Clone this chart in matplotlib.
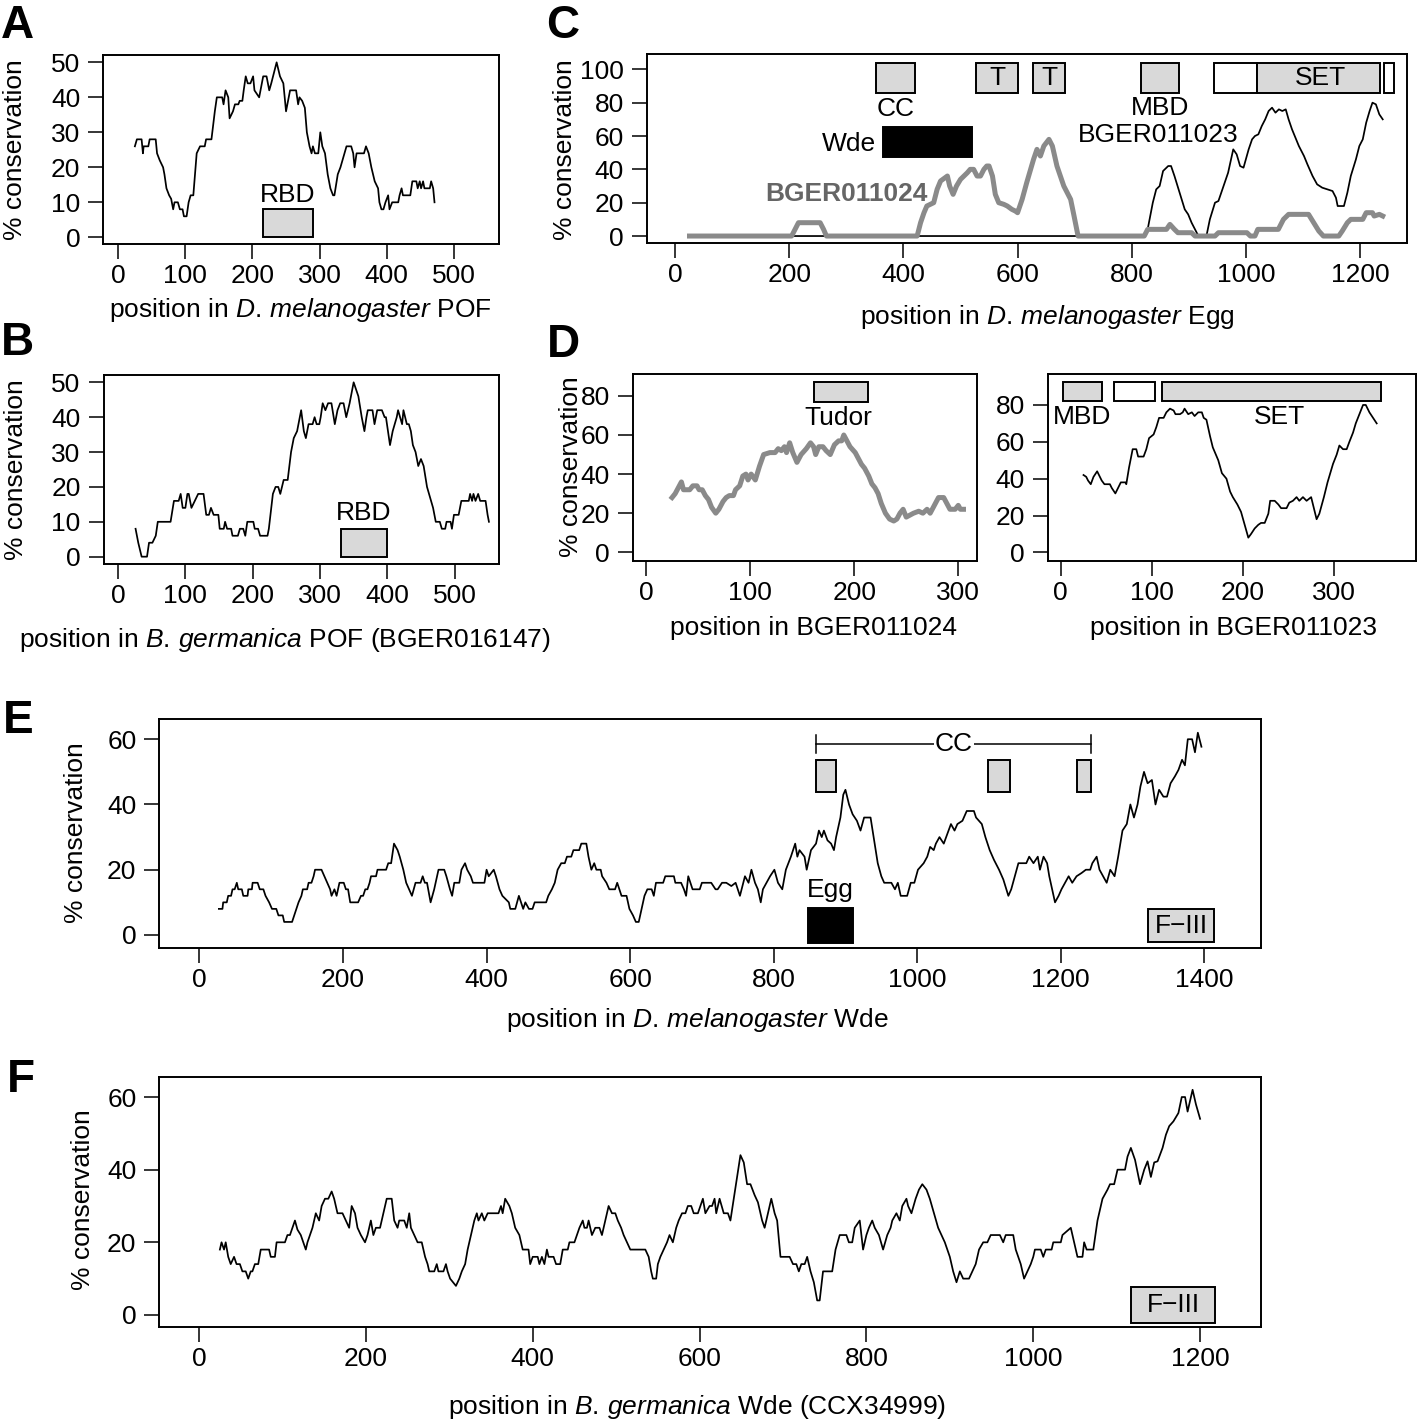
import matplotlib
matplotlib.use('Agg')
import matplotlib.pyplot as plt
from matplotlib.patches import Rectangle

plt.rcParams['font.family'] = ['Liberation Sans', 'DejaVu Sans']
plt.rcParams['mathtext.fontset'] = 'custom'
plt.rcParams['mathtext.rm'] = 'Liberation Sans'
plt.rcParams['mathtext.it'] = 'Liberation Sans:italic'
plt.rcParams['font.size'] = 19

# ---------------- data (position, % conservation) ----------------
pof_dmel = [(25,26),(28,28),(35,28),(37,24),(38,26),(45,26),(47,28),(56,28),(58,24),(62,22),(67,20),(69,18),
            (72,14),(76,12),(79,11),(82,8),(84,10),(89,10),(92,8),(96,8),(98,6),(102,6),(105,10),(108,12),
            (112,12),(117,24),(122,26),(129,26),(131,28),(139,28),(144,36),(147,40),(155,40),(157,38),(160,42),
            (164,40),(166,34),(171,36),(174,38),(179,38),(181,39),(185,39),(187,42),(190,46),(193,44),(197,44),
            (201,46),(203,42),(210,40),(212,42),(216,46),(221,46),(225,42),(228,44),(232,47),(236,50),(241,46),
            (246,44),(250,36),(254,40),(256,42),(265,42),(268,38),(270,40),(274,39),(278,37),(281,30),(285,26),
            (288,24),(290,26),(293,24),(298,24),(301,30),(304,26),(308,24),(312,18),(316,14),(320,12),(322,12),
            (327,18),(331,20),(334,22),(337,24),(340,26),(347,26),(350,24),(352,20),(355,24),(366,24),(369,26),
            (373,24),(377,20),(382,16),(387,14),(389,10),(392,8),(395,8),(398,10),(402,12),(404,8),(408,10),
            (417,10),(419,12),(422,14),(424,12),(435,12),(438,16),(444,16),(446,14),(449,16),(451,14),(454,16),
            (456,14),(464,14),(466,16),(469,14),(471,10)]

pof_bger = [(26,8),(30,4),(35,0),(43,0),(46,4),(51,4),(56,6),(59,10),(78,10),(83,16),(90,16),(93,18),(96,14),
            (100,14),(103,18),(105,18),(109,14),(114,16),(119,18),(127,18),(131,12),(135,12),(138,14),(142,12),
            (149,12),(151,8),(157,8),(159,10),(162,8),(168,8),(170,6),(178,6),(181,8),(186,8),(189,6),(192,10),
            (201,10),(203,8),(208,8),(211,6),(222,6),(224,8),(230,18),(234,20),(238,20),(241,18),(246,22),(252,22),
            (257,30),(261,34),(266,36),(272,42),(276,36),(279,34),(283,38),(289,38),(292,40),(295,38),(299,38),
            (301,40),(304,44),(308,42),(312,44),(317,44),(322,38),(326,42),(330,44),(335,44),(339,40),(344,44),
            (350,50),(357,46),(362,40),(366,36),(369,40),(371,42),(378,42),(381,38),(385,42),(392,42),(396,40),
            (398,40),(404,32),(408,36),(414,40),(416,42),(419,40),(422,38),(424,42),(429,38),(432,38),(435,36),
            (438,32),(442,30),(446,26),(450,28),(454,26),(459,20),(465,16),(468,14),(472,10),(478,10),(481,8),
            (486,8),(488,10),(494,10),(496,8),(499,12),(506,12),(510,16),(521,16),(523,18),(526,16),(528,18),
            (531,16),(535,18),(538,16),(546,16),(549,12),(551,10)]

egg_vs_bger011024 = [(25,0),(204,0),(210,4),(216,8),(254,8),(260,4),(265,0),(424,0),(430,8),(436,14),(441,18),
                     (453,20),(459,28),(465,33),(477,36),(481,30),(487,25),(493,30),(500,34),(506,36),(512,38),
                     (517,40),(523,40),(529,36),(535,36),(541,40),(546,42),(550,42),(556,36),(561,25),(567,20),
                     (576,19),(582,18),(590,16),(596,15),(600,14),(608,22),(616,32),(628,46),(634,52),(640,48),
                     (646,54),(655,58),(661,54),(669,42),(681,30),(693,22),(699,12),(706,0),(822,0),(828,4),
                     (861,4),(867,7),(875,4),(881,2),(905,2),(911,0),(946,0),(952,2),(1002,2),(1008,0),(1016,0),
                     (1021,4),(1057,4),(1066,10),(1075,13),(1110,13),(1119,8),(1128,3),(1136,0),(1163,0),
                     (1169,3),(1178,8),(1184,10),(1205,10),(1211,14),(1222,14),(1225,12),(1234,13),(1240,12)]

egg_vs_bger011023 = [(25,0),(822,0),(828,4),(837,20),(843,28),(849,30),(855,39),(864,42),(869,42),(875,36),
                     (884,26),(893,16),(899,13),(905,8),(911,4),(917,0),(931,0),(937,10),(946,20),(952,21),
                     (961,30),(969,38),(978,52),(984,49),(990,42),(996,41),(1005,52),(1011,58),(1016,60),
                     (1022,61),(1028,66),(1034,70),(1040,75),(1046,77),(1052,74),(1058,76),(1064,75),(1070,76),
                     (1075,70),(1081,64),(1093,54),(1102,48),(1108,43),(1117,36),(1125,31),(1134,29),(1143,28),
                     (1152,27),(1158,23),(1161,18),(1172,18),(1178,26),(1184,36),(1193,46),(1199,54),(1205,58),
                     (1211,68),(1217,75),(1222,80),(1228,79),(1234,73),(1240,70)]

bger011024 = [(25,28),(28,30),(31,33),(34,36),(36,32),(42,32),(45,34),(49,34),(51,32),(54,32),(57,29),(60,27),
              (63,23),(67,20),(70,22),(74,26),(77,28),(80,29),(84,29),(86,32),(90,34),(93,39),(96,40),(98,37),
              (101,40),(105,37),(109,44),(113,50),(119,51),(124,51),(127,53),(130,52),(133,54),(135,51),(138,56),
              (141,51),(145,46),(149,50),(154,53),(158,56),(161,54),(163,50),(166,54),(170,54),(173,52),(177,50),
              (181,55),(185,57),(188,57),(190,60),(193,57),(196,54),(201,51),(204,48),(207,45),(210,43),(214,39),
              (217,35),(220,33),(223,30),(226,25),(230,20),(234,17),(238,16),(241,17),(244,20),(247,22),(250,18),
              (257,20),(262,21),(266,20),(270,22),(273,20),(277,24),(281,28),(286,28),(289,25),(292,22),(297,22),
              (300,24),(302,22),(305,22)]

bger011023 = [(25,42),(28,41),(30,39),(33,37),(36,41),(40,44),(42,42),(45,39),(48,37),(54,37),(56,35),(60,32),
              (63,35),(66,38),(71,38),(72,37),(75,46),(79,56),(83,56),(85,52),(91,52),(94,56),(97,62),(102,64),
              (105,68),(108,73),(113,73),(116,76),(120,78),(124,77),(126,75),(131,75),(134,76),(136,78),(140,75),
              (144,76),(147,74),(151,76),(155,76),(157,73),(160,72),(164,63),(167,57),(173,50),(177,43),(182,40),
              (186,33),(189,30),(194,26),(198,22),(202,15),(206,8),(209,10),(213,13),(217,15),(220,16),(224,16),
              (228,21),(230,28),(235,28),(239,26),(242,24),(248,24),(251,27),(255,28),(259,30),(262,28),(266,30),
              (270,28),(275,30),(279,22),(281,18),(284,21),(289,30),(293,38),(299,48),(303,53),(306,58),(310,56),
              (314,56),(317,60),(321,65),(324,70),(328,75),(332,80),(335,80),(339,76),(343,73),(347,70)]

wde_dmel = [(27,8),(32,8),(33,10),(38,10),(40,12),(44,12),(46,14),(49,14),(52,16),(54,14),(59,14),(61,12),(67,12),
            (68,14),(73,14),(74,16),(81,16),(84,14),(89,14),(92,12),(97,10),(101,8),(107,8),(110,6),(116,6),(118,4),
            (129,4),(132,6),(135,8),(138,10),(142,12),(144,14),(150,14),(152,16),(156,16),(159,18),(161,20),(170,20),
            (174,18),(178,16),(182,14),(184,12),(188,14),(191,12),(195,16),(201,16),(204,14),(207,14),(210,10),
            (221,10),(225,12),(228,12),(231,14),(234,14),(237,16),(239,18),(246,18),(248,20),(260,20),(263,22),
            (267,22),(271,28),(276,26),(279,24),(284,20),(288,16),(292,14),(296,12),(301,16),(308,16),(311,18),
            (314,16),(317,16),(322,10),(327,14),(331,18),(333,20),(341,20),(344,18),(349,14),(352,12),(355,16),
            (362,16),(365,20),(370,22),(373,20),(378,18),(381,16),(397,16),(400,20),(403,18),(410,20),(413,18),
            (418,14),(422,12),(431,10),(433,8),(440,8),(445,12),(448,10),(451,8),(454,10),(459,8),(464,8),(467,10),
            (483,10),(486,12),(491,14),(495,16),(499,20),(504,22),(509,22),(512,24),(518,24),(521,26),(529,26),
            (532,28),(539,28),(542,24),(546,20),(550,22),(553,20),(559,20),(561,18),(567,16),(571,14),(579,14),
            (582,16),(585,14),(588,12),(595,12),(599,8),(604,6),(608,4),(612,4),(616,8),(620,12),(624,14),(630,14),
            (633,12),(636,16),(646,16),(649,18),(661,18),(663,16),(671,16),(675,14),(678,12),(681,18),(684,16),
            (687,14),(697,14),(700,16),(713,16),(719,14),(722,14),(728,16),(734,16),(741,15),(747,16),(753,12),
            (760,18),(765,16),(769,20),(774,16),(778,14),(782,10),(785,14),(790,16),(795,18),(801,20),(806,16),
            (812,14),(817,20),(824,24),(830,28),(833,24),(836,26),(843,24),(846,20),(852,26),(859,28),(863,32),
            (867,30),(870,32),(875,29),(880,28),(884,26),(887,30),(893,36),(897,43),(900,44.5),(905,40),(910,37),
            (916,35),(921,32),(926,36),(935,36),(940,29),(945,22),(950,18),(954,16),(964,16),(969,14),(973,16),
            (977,12),(986,12),(991,16),(996,16),(1001,20),(1009,22),(1014,24),(1018,27),(1023,26),(1026,28),
            (1031,30),(1037,28),(1042,31),(1047,34),(1052,32),(1056,34),(1063,35),(1069,38),(1079,38),(1082,36),
            (1090,34),(1095,30),(1101,26),(1107,23),(1114,20),(1120,17),(1127,12),(1131,14),(1136,18),(1141,22),
            (1152,22),(1156,24),(1162,22),(1168,24),(1171,20),(1176,24),(1181,22),(1184,18),(1188,14),(1192,10),
            (1197,12),(1201,14),(1206,16),(1211,18),(1216,16),(1222,18),(1229,19),(1235,20),(1241,20),(1244,22),
            (1250,24),(1254,20),(1259,18),(1264,16),(1269,20),(1275,18),(1280,24),(1286,32),(1292,34),(1297,40),
            (1302,36),(1307,40),(1311,45.5),(1316,50),(1321,46.5),(1327,47.5),(1332,40),(1337,44.5),(1343,42.4),
            (1348,42.4),(1353,46.5),(1359,48.6),(1364,50.6),(1369,53.7),(1373,52),(1377,60),(1383,60),(1387,56),
            (1391,62),(1396,57.7)]

wde_bger = [(25,18),(27,20),(30,18),(32,20),(35,16),(38,14),(42,16),(45,14),(49,14),(52,12),(56,12),(59,10),
            (62,12),(64,12),(67,14),(71,14),(74,18),(84,18),(86,16),(91,16),(93,20),(103,20),(106,22),(109,22),
            (112,24),(115,26),(118,23.5),(122,22),(125,20),(128,18),(130,20),(136,24),(140,28),(144,26),(147,30),
            (151,32),(155,32),(159,34),(162,32),(166,28),(172,28),(176,26),(180,24),(183,30),(187,28),(190,24),
            (194,22),(199,20),(202,22),(206,26),(209,22),(212,24),(217,24),(221,28),(225,32),(231,32),(234,26),
            (238,24),(240,26),(246,26),(249,24),(252,28),(254,24),(258,22),(262,20),(267,20),(271,16),(274,14),
            (276,12),(282,12),(285,14),(287,12),(293,12),(296,14),(298,12),(301,10),(308,8),(312,10),(315,12),
            (319,14),(322,18),(326,22),(330,26),(333,28),(335,26),(339,28),(342,26),(346,28),(359,28),(362,30),
            (364,28),(367,32),(372,30),(375,28),(379,24),(384,22),(388,18),(395,18),(397,14),(400,16),(406,16),
            (408,14),(411,16),(414,14),(417,18),(419,16),(425,16),(428,14),(433,14),(436,18),(442,18),(444,20),
            (450,20),(453,22),(456,24),(460,26),(462,24),(465,24),(467,26),(471,22),(475,24),(480,24),(483,22),
            (487,26),(491,30),(495,28),(499,28),(502,26),(506,24),(509,22),(513,20),(517,18),(535,18),(539,16),
            (542,12),(544,10),(548,10),(550,14),(553,16),(557,18),(561,20),(564,22),(568,20),(572,24),(575,26),
            (579,28),(583,28),(586,30),(590,30),(593,28),(598,28),(601,30),(604,32),(607,28),(612,30),(615,30),
            (618,32),(620,28),(624,32),(629,28),(634,28),(637,26),(641,32),(645,38),(649,44),(653,42),(657,36),
            (661,36),(666,33),(670,31),(675,26),(678,24),(682,28),(686,32),(690,28),(693,26),(697,16),(708,16),
            (712,14),(716,14),(719,12),(722,14),(726,14),(729,16),(733,12),(737,9),(741,4),(744,4),(748,12),
            (759,12),(763,18),(768,22),(776,22),(779,20),(783,20),(786,24),(792,26),(796,18),(800,22),(803,24),
            (807,26),(810,24),(815,22),(820,18),(825,22),(829,24),(831,26),(836,28),(840,26),(843,30),(848,32),
            (850,30),(854,28),(859,32),(863,34.5),(867,36),(872,34.5),(876,32),(881,28),(886,24),(890,22),
            (894,20),(900,16),(904,12),(908,9),(912,12),(916,10),(923,10),(927,12),(931,14),(935,18),(940,20),
            (945,20),(949,22),(960,22),(964,20),(967,22),(976,22),(979,18),(985,14),(989,10),(993,12),(997,14),
            (1000,16),(1002,18),(1009,18),(1012,16),(1015,18),(1022,18),(1024,20),(1033,20),(1035,22),(1045,24),
            (1049,20),(1053,16),(1059,16),(1061,20),(1064,18),(1072,18),(1077,26),(1083,32),(1089,34.5),(1092,36),
            (1097,36),(1101,40),(1110,40),(1113,43.6),(1117,46),(1122,42.7),(1128,36),(1133,40),(1137,42.3),
            (1141,38),(1145,42),(1149,42.3),(1155,46),(1159,49.6),(1163,52),(1168,53.3),(1174,55.6),(1178,60),
            (1182,60),(1185,56),(1189,60),(1191,62),(1195,58),(1200,54)]

# domain annotations (start, end)
rbd_dmel = (215, 290)
rbd_bger = (331, 400)
egg_cc = (352, 420)
egg_tudor = [(528, 600), (627, 684)]
egg_mbd = (816, 883)
egg_pre = (944, 1019)
egg_set = (1019, 1235)
egg_post = (1243, 1260)
egg_wde = (364, 521)
tudor_bger011024 = (161, 213)
bger011023_mbd = (2, 45)
bger011023_pre = (58, 103)
bger011023_set = (111, 352)
wde_cc = [(859, 887), (1099, 1129), (1222, 1242)]
wde_cc_span = (859, 1242)
wde_egg = (848, 910)
wde_dmel_f3 = (1322, 1413)
wde_bger_f3 = (1117, 1218)

# ---------------- figure ----------------
W, H = 1417, 1423
fig = plt.figure(figsize=(W / 100, H / 100), dpi=100)
GREY = '#d9d9d9'
LGREY = '#8a8a8a'
LW = 1.25


def add_ax(l, t, r, b):
    return fig.add_axes([l / W, 1 - b / H, (r - l) / W, (b - t) / H])


def style(ax, xlim, ylim, xticks, yticks):
    ax.set_xlim(*xlim)
    ax.set_ylim(*ylim)
    ax.set_xticks(xticks)
    ax.set_yticks(yticks)
    ax.tick_params(axis='both', direction='out', length=10.5, width=1.1, labelsize=19)
    ax.tick_params(axis='y', pad=6)
    ax.tick_params(axis='x', pad=4)
    for s in ax.spines.values():
        s.set_linewidth(1.4)


def ftext(x, y, s, **kw):
    fig.text(x / W, 1 - y / H, s, **kw)


def box(ax, x0, x1, y0, y1, fc=GREY):
    ax.add_patch(Rectangle((x0, y0), x1 - x0, y1 - y0, facecolor=fc, edgecolor='black',
                           linewidth=1.4, zorder=3))


def xy(pairs):
    return [p[0] for p in pairs], [p[1] for p in pairs]


DMEL = '$\\mathit{D.\\,melanogaster}$'
BGER = '$\\mathit{B.\\,germanica}$'

# Panel A
axA = add_ax(103.3, 55, 499, 244.3)
style(axA, (-22, 567), (-2.0, 52.1), range(0, 501, 100), range(0, 51, 10))
axA.plot(*xy(pof_dmel), color='black', lw=LW)
box(axA, rbd_dmel[0], rbd_dmel[1], 0, 8)
axA.text(sum(rbd_dmel) / 2, 12, 'RBD', ha='center', va='center')
ftext(15, 150, '% conservation', rotation=90, ha='center', va='center')
ftext(300, 310, 'position in ' + DMEL + ' POF', ha='center', va='center')

# Panel B
axB = add_ax(103.6, 375, 498.7, 564)
style(axB, (-21.5, 565.5), (-2.1, 52.1), range(0, 501, 100), range(0, 51, 10))
axB.plot(*xy(pof_bger), color='black', lw=LW)
box(axB, rbd_bger[0], rbd_bger[1], 0, 8)
axB.text(sum(rbd_bger) / 2, 12.4, 'RBD', ha='center', va='center')
ftext(16, 470, '% conservation', rotation=90, ha='center', va='center')
ftext(285, 640, 'position in ' + BGER + ' POF (BGER016147)', ha='center', va='center')

# Panel C
axC = add_ax(646.7, 54, 1406.7, 242.7)
style(axC, (-50, 1282), (-4, 109.2), range(0, 1201, 200), range(0, 101, 20))
axC.plot(*xy(egg_vs_bger011023), color='black', lw=LW, zorder=2)
axC.plot(*xy(egg_vs_bger011024), color=LGREY, lw=3.6, zorder=2.5, solid_joinstyle='round')
box(axC, egg_cc[0], egg_cc[1], 86, 104)
for t0, t1 in egg_tudor:
    box(axC, t0, t1, 86, 104)
    axC.text((t0 + t1) / 2, 95, 'T', ha='center', va='center', zorder=4)
box(axC, egg_mbd[0], egg_mbd[1], 86, 104)
box(axC, egg_pre[0], egg_pre[1], 86, 104, fc='white')
box(axC, egg_set[0], egg_set[1], 86, 104)
box(axC, egg_post[0], egg_post[1], 86, 104, fc='white')
axC.text(1130, 95, 'SET', ha='center', va='center', zorder=4)
box(axC, egg_wde[0], egg_wde[1], 47.2, 65.6, fc='black')
axC.text(sum(egg_cc) / 2, 76, 'CC', ha='center', va='center')
axC.text(352, 55, 'Wde', ha='right', va='center')
axC.text(443, 25, 'BGER011024', ha='right', va='center', color='#666666', fontweight='bold', zorder=4)
axC.text(849, 77, 'MBD', ha='center', va='center')
axC.text(846, 60.6, 'BGER011023', ha='center', va='center')
ftext(565, 150, '% conservation', rotation=90, ha='center', va='center')
ftext(1047, 317, 'position in ' + DMEL + ' Egg', ha='center', va='center')

# Panel D left
axD1 = add_ax(632.7, 374, 976.7, 560.7)
style(axD1, (-12.8, 317.7), (-4.3, 91.2), range(0, 301, 100), range(0, 81, 20))
axD1.plot(*xy(bger011024), color=LGREY, lw=3.6, solid_joinstyle='round')
box(axD1, tudor_bger011024[0], tudor_bger011024[1], 76.8, 87.2)
axD1.text(185, 68.6, 'Tudor', ha='center', va='center')
ftext(571, 467, '% conservation', rotation=90, ha='center', va='center')
ftext(814, 628, 'position in BGER011024', ha='center', va='center')

# Panel D right
axD2 = add_ax(1047.7, 374, 1415.5, 560.7)
style(axD2, (-14.3, 389.6), (-4.5, 96.8), range(0, 301, 100), range(0, 81, 20))
axD2.plot(*xy(bger011023), color='black', lw=LW)
box(axD2, bger011023_mbd[0], bger011023_mbd[1], 82, 92.3)
box(axD2, bger011023_pre[0], bger011023_pre[1], 82, 92.3, fc='white')
box(axD2, bger011023_set[0], bger011023_set[1], 82, 92.3)
axD2.text(23, 73.6, 'MBD', ha='center', va='center')
axD2.text(240.5, 73.6, 'SET', ha='center', va='center')
ftext(1234, 628, 'position in BGER011023', ha='center', va='center')

# Panel E
axE = add_ax(159.3, 719, 1261, 947.7)
style(axE, (-56, 1479), (-3.9, 66.2), range(0, 1401, 200), range(0, 61, 20))
axE.plot(*xy(wde_dmel), color='black', lw=LW)
for c0, c1 in wde_cc:
    box(axE, c0, c1, 43.7, 53.7)
axE.plot([wde_cc_span[0], wde_cc_span[1]], [58.6, 58.6], color='black', lw=1.1)
axE.plot([wde_cc_span[0], wde_cc_span[0]], [55.9, 61.3], color='black', lw=1.1)
axE.plot([wde_cc_span[1], wde_cc_span[1]], [55.9, 61.3], color='black', lw=1.1)
axE.text(1051, 58.6, 'CC', ha='center', va='center',
         bbox=dict(facecolor='white', edgecolor='none', pad=0.5), zorder=4)
box(axE, wde_egg[0], wde_egg[1], -2.4, 8.2, fc='black')
axE.text(sum(wde_egg) / 2, 13.8, 'Egg', ha='center', va='center')
box(axE, wde_dmel_f3[0], wde_dmel_f3[1], -2.2, 7.9)
axE.text(sum(wde_dmel_f3) / 2, 2.85, 'F\u2212III', ha='center', va='center', zorder=4)
ftext(76, 833, '% conservation', rotation=90, ha='center', va='center')
ftext(697, 1020, 'position in ' + DMEL + ' Wde', ha='center', va='center')

# Panel F
axF = add_ax(159.3, 1076.7, 1261, 1327.3)
style(axF, (-47.6, 1273), (-3.4, 65.6), range(0, 1201, 200), range(0, 61, 20))
axF.plot(*xy(wde_bger), color='black', lw=LW)
box(axF, wde_bger_f3[0], wde_bger_f3[1], -2.1, 7.6)
axF.text(sum(wde_bger_f3) / 2, 2.75, 'F\u2212III', ha='center', va='center', zorder=4)
ftext(83, 1200, '% conservation', rotation=90, ha='center', va='center')
ftext(697, 1407, 'position in ' + BGER + ' Wde (CCX34999)', ha='center', va='center')

# panel letters
for lab, (px, py) in {'A': (1, 4), 'B': (1, 321), 'C': (546, 4), 'D': (547, 323),
                      'E': (3, 699), 'F': (7, 1058)}.items():
    ftext(px, py, lab, fontsize=33, fontweight='bold', ha='left', va='top')

fig.savefig('out.png', dpi=100)
